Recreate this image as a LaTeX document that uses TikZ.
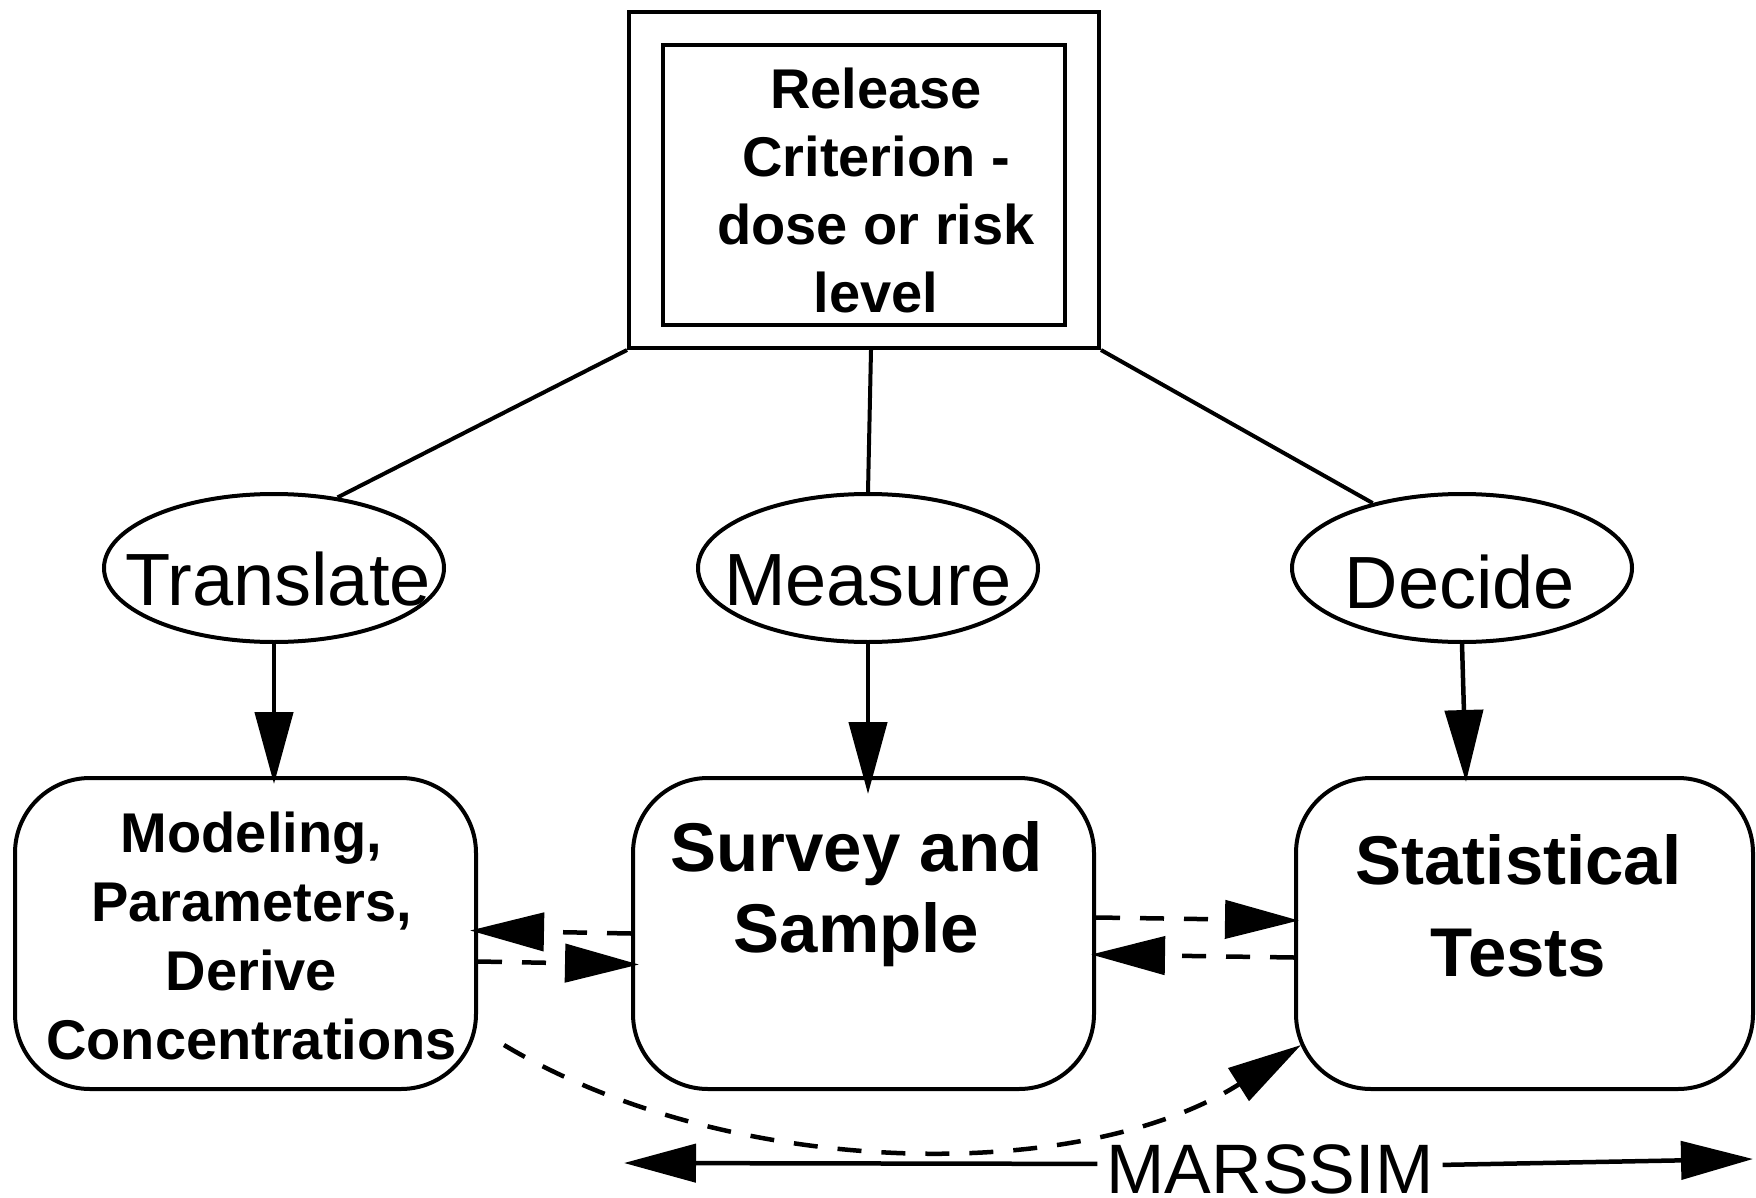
\documentclass[tikz,border=0pt]{standalone}
\usepackage{fontspec}
\setmainfont{Liberation Sans}
\usetikzlibrary{arrows.meta,shapes.geometric,calc}
\begin{document}
\begin{tikzpicture}[x=1pt,y=-1pt,
  plainbox/.style={draw,line width=4pt,inner sep=0pt},
  roundbox/.style={draw,line width=4pt,rounded corners=75pt,minimum height=311pt,inner sep=0pt},
  oval/.style={draw,ellipse,line width=4pt,minimum width=340pt,minimum height=148pt,inner sep=0pt},
  ovaltext/.style={font=\fontsize{74}{80}\selectfont,anchor=base,inner sep=0pt},
  boldtext/.style={font=\bfseries\fontsize{56}{68}\selectfont,align=center,inner sep=0pt},
  bigtext/.style={font=\bfseries\fontsize{69}{81}\selectfont,align=center,inner sep=0pt},
  conn/.style={line width=4pt},
  head/.style={line width=4.5pt,-{Triangle[length=72pt,width=38pt]}},
  dashhead/.style={line width=4.5pt,dash pattern=on 24pt off 20pt,-{Triangle[length=74pt,width=38pt]}}
]
\useasboundingbox (0,0) rectangle (1756,1198);

% top double box
\node[plainbox,minimum width=470pt,minimum height=336pt] (outer) at (864,180) {};
\node[plainbox,minimum width=402pt,minimum height=280pt] (rel) at (864,185) {};
\node[boldtext] (reltext) at ([xshift=12pt,yshift=-5pt]rel.center) {Release\\Criterion -\\dose or risk\\level};

% ellipses
\node[oval] (tr) at (274,568) {};
\node[oval] (ms) at (868,568) {};
\node[oval] (dc) at (1462,568) {};
\node[ovaltext] (trt) at (278,605) {Translate};
\node[ovaltext] (mst) at (868,605) {Measure};
\node[ovaltext] (dct) at (1460,608) {Decide};

% rounded boxes
\node[roundbox,minimum width=461pt] (mod) at (245.5,933.5) {};
\node[roundbox,minimum width=461pt] (sv) at (863.5,933.5) {};
\node[roundbox,minimum width=457pt] (st) at (1524.5,933.5) {};
\node[boldtext,font=\bfseries\fontsize{56}{69}\selectfont] (modt) at ([xshift=6pt,yshift=-2pt]mod.center) {Modeling,\\Parameters,\\Derive\\Concentrations};
\node[bigtext] (svt) at ([xshift=-7pt,yshift=39pt]sv.center) {Survey and\\Sample};
\node[bigtext,font=\bfseries\fontsize{69}{92}\selectfont] (stt) at ([xshift=-6pt,yshift=28pt]st.center) {Statistical\\Tests};

% connectors from top box
\draw[conn] (outer.south west) -- (tr.48);
\draw[conn] ([xshift=7pt]outer.south) -- (ms.north);
\draw[conn] (outer.south east) -- (dc.144);

% arrows from ellipses
\draw[head] (tr.south) -- ([yshift=-8pt]tr.south |- mod.north);
\draw[head] (ms.south) -- ([yshift=-18pt]ms.south |- sv.north);
\draw[head] (dc.south) -- ([xshift=4pt,yshift=-6pt]dc.south |- st.north);

% dashed arrows between boxes
\draw[dashhead] (sv.west) -- ([xshift=-8pt,yshift=3pt]mod.east);
\draw[dashhead] ([yshift=-28pt]mod.east) -- ([xshift=8pt,yshift=-31pt]sv.west);
\draw[dashhead] ([yshift=16pt]sv.east) -- ([xshift=5pt,yshift=13pt]st.west);
\draw[dashhead] ([yshift=-24pt]st.west) -- ([xshift=-5pt,yshift=-21pt]sv.east);

% curved dashed arrow
\coordinate (cs) at (504,1045);
\coordinate (ce) at (1301,1045);
\draw[dashhead] (cs) .. controls (730,1180) and (1080,1185) .. (ce);

% MARSSIM
\node[font=\fontsize{70}{80}\selectfont,anchor=base,inner sep=9pt] (mar) at (1270,1193) {MARSSIM};
\coordinate (ml) at (624,1163);
\coordinate (mr) at (1753,1159);
\draw[head] ([yshift=5pt]mar.west) -- (ml);
\draw[head] ([yshift=4pt]mar.east) -- (mr);
\end{tikzpicture}
\end{document}
